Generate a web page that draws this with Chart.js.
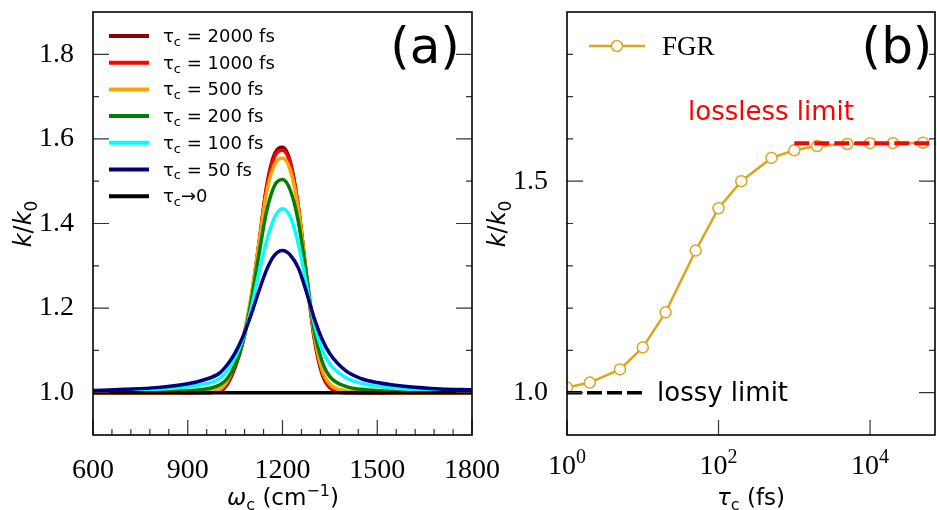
<!DOCTYPE html>
<html>
<head>
<meta charset="utf-8">
<script src="https://cdn.jsdelivr.net/npm/chart.js@4.4.0/dist/chart.umd.min.js"></script>
<style>
  body { margin: 0; background: #fff; }
  #wrap { position: relative; width: 937px; height: 510px; }
  #wrap canvas { position: absolute; left: 0; top: 0; }
</style>
</head>
<body>
<div id="wrap">
  <canvas id="rateVsFreq" width="937" height="510"></canvas>
  <canvas id="rateVsTau" width="937" height="510"></canvas>
</div>
<script>
// ---- panel (a): k/k0 against cavity frequency, one curve per cavity lifetime ----
const omega = [600, 700, 800, 900, 950, 1000, 1025, 1050, 1075, 1100, 1125, 1150, 1175,
               1200, 1225, 1250, 1275, 1300, 1325, 1350, 1400, 1450, 1500, 1600, 1700, 1800];
const k2000 = [1.000, 1.000, 1.000, 1.000, 1.000, 1.003, 1.020, 1.060, 1.120, 1.215, 1.350, 1.490, 1.565,
               1.580, 1.545, 1.440, 1.280, 1.130, 1.045, 1.012, 1.000, 1.000, 1.000, 1.000, 1.000, 1.000];
const k1000 = [1.000, 1.000, 1.000, 1.000, 1.001, 1.005, 1.024, 1.065, 1.125, 1.220, 1.350, 1.485, 1.558,
               1.573, 1.540, 1.440, 1.285, 1.135, 1.050, 1.015, 1.002, 1.000, 1.000, 1.000, 1.000, 1.000];
const k500  = [1.000, 1.000, 1.000, 1.001, 1.002, 1.008, 1.028, 1.070, 1.130, 1.225, 1.350, 1.475, 1.540,
               1.555, 1.525, 1.435, 1.285, 1.140, 1.055, 1.020, 1.005, 1.002, 1.001, 1.000, 1.000, 1.000];
const k200  = [1.001, 1.002, 1.003, 1.005, 1.008, 1.018, 1.033, 1.066, 1.122, 1.212, 1.325, 1.430, 1.490,
               1.504, 1.478, 1.405, 1.282, 1.150, 1.075, 1.038, 1.015, 1.008, 1.005, 1.003, 1.002, 1.001];
const k100  = [1.003, 1.005, 1.008, 1.014, 1.020, 1.033, 1.052, 1.083, 1.128, 1.196, 1.282, 1.360, 1.415,
               1.435, 1.415, 1.352, 1.260, 1.165, 1.103, 1.068, 1.036, 1.022, 1.015, 1.008, 1.005, 1.004];
const k50   = [1.005, 1.008, 1.012, 1.021, 1.030, 1.046, 1.066, 1.094, 1.133, 1.183, 1.240, 1.291, 1.325,
               1.336, 1.325, 1.295, 1.240, 1.177, 1.127, 1.092, 1.052, 1.033, 1.024, 1.014, 1.009, 1.007];
const k0    = [1.000, 1.000, 1.000, 1.000, 1.000, 1.000, 1.000, 1.000, 1.000, 1.000, 1.000, 1.000, 1.000,
               1.000, 1.000, 1.000, 1.000, 1.000, 1.000, 1.000, 1.000, 1.000, 1.000, 1.000, 1.000, 1.000];
const curveNames = ['= 2000 fs', '= 1000 fs', '= 500 fs', '= 200 fs', '= 100 fs', '= 50 fs', '\u21920'];
const curveColors = ['#8b0000', '#ff0000', '#ffa500', '#008000', '#00ffff', '#000080', '#000000'];
const xTicksA = [600, 900, 1200, 1500, 1800];
const yTicksA = [1.0, 1.2, 1.4, 1.6, 1.8];

// ---- panel (b): FGR rate against cavity lifetime ----
const tau = [1, 2, 5, 10, 20, 50, 100, 200, 500, 1000, 2000, 5000, 10000, 20000, 50000];
const fgr = [1.012, 1.024, 1.055, 1.107, 1.190, 1.336, 1.436, 1.500, 1.555, 1.573, 1.583, 1.588, 1.590, 1.590, 1.591];
const losslessX = [1000, 72000];
const losslessY = [1.59, 1.59];
const lossyX = [1, 10.7];
const lossyY = [1.0, 1.0];
const xTicksB = [1, 100, 10000];
const yTicksB = [1.0, 1.5];

const SANS = '"DejaVu Sans"';
const SERIF = '"Liberation Serif"';

// draws text made of pieces: [text, kind] where kind is '', 'i' (italic), 'sub' or 'sup'
function richText(ctx, parts, x, y, size, align, family) {
  family = family || SANS;
  const fontFor = k => (k === 'i' ? 'italic ' : '') +
    Math.round(k === 'sub' || k === 'sup' ? size * 0.7 : size) + 'px ' + family;
  let w = 0;
  parts.forEach(([t, k]) => { ctx.font = fontFor(k); w += ctx.measureText(t).width; });
  let cx = align === 'center' ? x - w / 2 : x;
  ctx.textAlign = 'left';
  ctx.textBaseline = 'alphabetic';
  parts.forEach(([t, k]) => {
    ctx.font = fontFor(k);
    const dy = k === 'sub' ? size * 0.22 : (k === 'sup' ? -size * 0.4 : 0);
    ctx.fillText(t, cx, y + dy);
    cx += ctx.measureText(t).width;
  });
}

function rotatedText(ctx, parts, x, y, size) {
  ctx.save();
  ctx.translate(x, y);
  ctx.rotate(-Math.PI / 2);
  richText(ctx, parts, 0, size * 0.35, size, 'center');
  ctx.restore();
}

// inward tick marks on bottom, left and right, plus the box
function drawFrame(chart, xMajor, xMinor, yMajor, yMinor) {
  const { ctx, chartArea: a, scales: { x, y } } = chart;
  ctx.save();
  ctx.strokeStyle = '#333';
  ctx.lineWidth = 1.2;
  ctx.beginPath();
  xMajor.forEach(v => { const p = x.getPixelForValue(v); ctx.moveTo(p, a.bottom); ctx.lineTo(p, a.bottom - 15); });
  xMinor.forEach(v => { const p = x.getPixelForValue(v); ctx.moveTo(p, a.bottom); ctx.lineTo(p, a.bottom - 6); });
  yMajor.forEach(v => {
    const p = y.getPixelForValue(v);
    ctx.moveTo(a.left, p); ctx.lineTo(a.left + 16, p);
    ctx.moveTo(a.right, p); ctx.lineTo(a.right - 16, p);
  });
  yMinor.forEach(v => {
    const p = y.getPixelForValue(v);
    ctx.moveTo(a.left, p); ctx.lineTo(a.left + 6, p);
    ctx.moveTo(a.right, p); ctx.lineTo(a.right - 6, p);
  });
  ctx.stroke();
  ctx.strokeStyle = '#000';
  ctx.lineWidth = 1.6;
  ctx.strokeRect(a.left, a.top, a.right - a.left, a.bottom - a.top);
  ctx.restore();
}

// fixed axis boxes so both plot areas land where the figure has them
function fixY(width) {
  return s => { s.width = width; s.paddingTop = 0; s.paddingBottom = 0; };
}
function fixX(s) {
  s.height = 75; s.paddingLeft = 0; s.paddingRight = 0;
}

const minorXA = [];
for (let v = 660; v < 1800; v += 60) if (!xTicksA.includes(v)) minorXA.push(v);
const minorYA = [1.1, 1.3, 1.5, 1.7];
const minorYB = [1.1, 1.2, 1.3, 1.4, 1.6, 1.7, 1.8];

const tickFont = { family: SERIF, size: 28 };

// ---------------- chart (a) ----------------
const decorA = {
  id: 'decorA',
  afterDraw(chart) {
    const ctx = chart.ctx;
    drawFrame(chart, xTicksA, minorXA, yTicksA, minorYA);
    ctx.save();
    ctx.fillStyle = '#000';
    // legend
    curveNames.forEach((name, i) => {
      const yy = 36 + i * 26.7;
      ctx.strokeStyle = curveColors[i];
      ctx.lineWidth = 4;
      ctx.beginPath(); ctx.moveTo(109, yy); ctx.lineTo(149, yy); ctx.stroke();
      ctx.fillStyle = '#000';
      const rest = i < 6 ? ' ' + name : name;
      richText(ctx, [['\u03c4', ''], ['c', 'sub'], [rest, '']], 163, yy + 6, 18, 'left');
    });
    ctx.font = '50px ' + SANS;
    ctx.textAlign = 'center';
    ctx.textBaseline = 'alphabetic';
    ctx.fillText('(a)', 425, 63);
    rotatedText(ctx, [['k', 'i'], ['/', ''], ['k', 'i'], ['0', 'sub']], 23, 224, 24);
    richText(ctx, [['\u03c9', 'i'], ['c', 'sub'], [' (cm', ''], ['\u22121', 'sup'], [')', '']], 283, 505, 23, 'center');
    ctx.restore();
  }
};

new Chart(document.getElementById('rateVsFreq'), {
  type: 'line',
  data: {
    datasets: [k2000, k1000, k500, k200, k100, k50, k0].map((ys, i) => ({
      data: omega.map((w, j) => ({ x: w, y: ys[j] })),
      borderColor: curveColors[i],
      borderWidth: 3.5,
      pointRadius: 0,
      cubicInterpolationMode: 'monotone',
      fill: false,
      order: 6 - i
    }))
  },
  options: {
    responsive: false,
    animation: false,
    layout: { autoPadding: false, padding: { left: 0, top: 12, right: 465, bottom: 0 } },
    plugins: { legend: { display: false }, tooltip: { enabled: false } },
    scales: {
      x: {
        type: 'linear', min: 600, max: 1800,
        afterBuildTicks: s => { s.ticks = xTicksA.map(v => ({ value: v })); },
        afterFit: fixX,
        grid: { display: false }, border: { display: false },
        ticks: { font: tickFont, color: '#000', padding: 11, maxRotation: 0, autoSkip: false,
                 callback: v => String(v) }
      },
      y: {
        min: 0.9, max: 1.9,
        afterBuildTicks: s => { s.ticks = yTicksA.map(v => ({ value: v })); },
        afterFit: fixY(93),
        grid: { display: false }, border: { display: false },
        ticks: { font: tickFont, color: '#000', padding: 11, callback: v => v.toFixed(1) }
      }
    }
  },
  plugins: [decorA]
});

// ---------------- chart (b) ----------------
const goldColor = '#daa520';
const sup = { 0: '0', 2: '2', 4: '4' };

const decorB = {
  id: 'decorB',
  afterDraw(chart) {
    const ctx = chart.ctx;
    const xs = chart.scales.x;
    drawFrame(chart, xTicksB, [], yTicksB, minorYB);
    ctx.save();
    ctx.fillStyle = '#000';
    // log tick labels 10^n
    xTicksB.forEach(v => {
      const p = xs.getPixelForValue(v);
      richText(ctx, [['10', ''], [sup[Math.round(Math.log10(v))], 'sup']], p, 474, 28, 'center', SERIF);
    });
    // legend
    ctx.strokeStyle = goldColor;
    ctx.lineWidth = 2.5;
    ctx.beginPath(); ctx.moveTo(589, 46); ctx.lineTo(645, 46); ctx.stroke();
    ctx.fillStyle = '#fff';
    ctx.lineWidth = 1.5;
    ctx.beginPath(); ctx.arc(617, 46, 5.5, 0, Math.PI * 2); ctx.fill(); ctx.stroke();
    ctx.fillStyle = '#000';
    ctx.font = '27px ' + SERIF;
    ctx.textAlign = 'left';
    ctx.textBaseline = 'alphabetic';
    ctx.fillText('FGR', 662, 55);
    ctx.font = '50px ' + SANS;
    ctx.textAlign = 'center';
    ctx.fillText('(b)', 897, 63);
    ctx.font = '26px ' + SANS;
    ctx.textAlign = 'left';
    ctx.fillStyle = '#ff0000';
    ctx.fillText('lossless limit', 688, 120);
    ctx.fillStyle = '#000';
    ctx.fillText('lossy limit', 657, 401);
    rotatedText(ctx, [['k', 'i'], ['/', ''], ['k', 'i'], ['0', 'sub']], 497, 224, 24);
    richText(ctx, [['\u03c4', 'i'], ['c', 'sub'], [' (fs)', '']], 751, 505, 23, 'center');
    ctx.restore();
  }
};

new Chart(document.getElementById('rateVsTau'), {
  type: 'line',
  data: {
    datasets: [
      {
        data: losslessX.map((t, j) => ({ x: t, y: losslessY[j] })),
        borderColor: '#ff0000', borderWidth: 4, borderDash: [15, 5],
        pointRadius: 0, fill: false, order: 0
      },
      {
        data: lossyX.map((t, j) => ({ x: t, y: lossyY[j] })),
        borderColor: '#000000', borderWidth: 3.5, borderDash: [15, 5],
        pointRadius: 0, fill: false, order: 1
      },
      {
        data: tau.map((t, j) => ({ x: t, y: fgr[j] })),
        borderColor: goldColor, borderWidth: 2.5,
        pointRadius: 5.5, pointBorderWidth: 1.5,
        pointBackgroundColor: '#ffffff', pointBorderColor: goldColor,
        fill: false, tension: 0, order: 2
      }
    ]
  },
  options: {
    responsive: false,
    animation: false,
    layout: { autoPadding: false, padding: { left: 480, top: 12, right: 2, bottom: 0 } },
    plugins: { legend: { display: false }, tooltip: { enabled: false } },
    scales: {
      x: {
        type: 'logarithmic', min: 1, max: 72000,
        afterBuildTicks: s => { s.ticks = xTicksB.map(v => ({ value: v })); },
        afterFit: fixX,
        grid: { display: false }, border: { display: false },
        ticks: { display: false }
      },
      y: {
        min: 0.9, max: 1.9,
        afterBuildTicks: s => { s.ticks = yTicksB.map(v => ({ value: v })); },
        afterFit: fixY(87),
        grid: { display: false }, border: { display: false },
        ticks: { font: tickFont, color: '#000', padding: 11, callback: v => v.toFixed(1) }
      }
    }
  },
  plugins: [decorB]
});
</script>
</body>
</html>
